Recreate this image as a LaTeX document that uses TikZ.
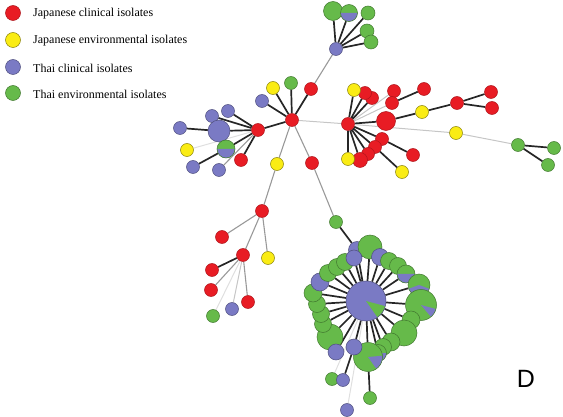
\documentclass[tikz,border=0pt]{standalone}
\usepackage{fontspec}
\setmainfont{Liberation Serif}
\newfontfamily\panelfont{Liberation Sans}
\usetikzlibrary{backgrounds}

\definecolor{jcred}{RGB}{232,28,36}
\definecolor{jeyellow}{RGB}{250,236,20}
\definecolor{tcblue}{RGB}{122,122,196}
\definecolor{tegreen}{RGB}{102,186,74}

\tikzset{
  iso/.style={circle,inner sep=0pt,minimum size=13pt,line width=0.5pt},
  jc/.style={iso,fill=jcred,draw=jcred!75!black},
  je/.style={iso,fill=jeyellow,draw=jeyellow!55!black},
  tc/.style={iso,fill=tcblue,draw=tcblue!65!black},
  te/.style={iso,fill=tegreen,draw=tegreen!65!black},
  pie/.style n args={3}{path picture={\fill[#1] (path picture bounding box.center)
      -- ++(#2:30pt) arc[start angle=#2,end angle=#3,radius=30pt] -- cycle;}},
  strong/.style={line width=1.7pt,black!85},
  weak/.style={line width=1.1pt,gray!80},
  light/.style={line width=1pt,gray!45},
  faint/.style={line width=1pt,gray!25},
  legtext/.style={anchor=west,font=\fontsize{12}{14}\selectfont,inner sep=0pt},
}

\begin{document}
\begin{tikzpicture}[x=1pt,y=-1pt]
\useasboundingbox (0,0) rectangle (563,417);

% legend
\node[jc,minimum size=15pt] (k1) at (13,13) {};
\node[je,minimum size=15pt] (k2) at (13,40) {};
\node[tc,minimum size=15pt] (k3) at (13,67) {};
\node[te,minimum size=15pt] (k4) at (13,93) {};
\node[legtext] (k1t) at (33,14) {Japanese clinical isolates};
\node[legtext] (k2t) at (33,41) {Japanese environmental isolates};
\node[legtext] (k3t) at (33,68) {Thai clinical isolates};
\node[legtext] (k4t) at (33,94) {Thai environmental isolates};

% top group
\node[tc] (t0) at (336,49) {};
\node[te,minimum size=19pt] (t1) at (333,11) {};
\node[te,minimum size=17pt,pie={tcblue}{180}{360}] (t2) at (349,13) {};
\node[te,minimum size=14pt] (t3) at (368,13) {};
\node[te,minimum size=14pt] (t4) at (367,31) {};
\node[te,minimum size=14pt] (t5) at (371,42) {};

% left hubs
\node[jc] (h1) at (258,130) {};
\node[jc] (h2) at (292,120) {};
\node[je] (a1) at (273,88) {};
\node[te] (a2) at (291,83) {};
\node[jc] (a3) at (311,89) {};
\node[tc] (a4) at (262,101) {};
\node[tc] (b1) at (228,111) {};
\node[tc] (b2) at (212,116) {};
\node[tc,minimum size=22pt] (b3) at (219,131) {};
\node[tc] (b4) at (180,128) {};
\node[te,minimum size=18pt,pie={tcblue}{180}{360}] (b5) at (226,149) {};
\node[je] (b6) at (187,150) {};
\node[tc] (b7) at (193,167) {};
\node[tc] (b8) at (219,170) {};
\node[jc] (b9) at (241,160) {};
\node[je] (d1) at (277,164) {};
\node[jc] (d2) at (312,163) {};

% right hub
\node[jc] (h3) at (348,124) {};
\node[jc] (e3) at (372,98) {};
\node[jc] (e2) at (365,93) {};
\node[je] (e1) at (354,90) {};
\node[jc] (e4) at (394,91) {};
\node[jc] (e5) at (392,103) {};
\node[jc] (e6) at (424,89) {};
\node[jc,minimum size=19pt] (e7) at (386,121) {};
\node[je] (e8) at (422,112) {};
\node[jc] (e9) at (457,103) {};
\node[jc] (e10) at (491,92) {};
\node[jc] (e11) at (492,108) {};
\node[je] (f1) at (456,133) {};
\node[te] (f2) at (518,145) {};
\node[te] (f3) at (554,148) {};
\node[te] (f4) at (548,165) {};
\node[jc] (s1) at (382,139) {};
\node[jc] (s2) at (375,147) {};
\node[jc] (s3) at (368,154) {};
\node[jc,minimum size=15pt] (s4) at (360,160) {};
\node[je] (s5) at (348,159) {};
\node[jc] (s6) at (413,155) {};
\node[je] (s7) at (402,172) {};

% lower left
\node[jc] (g1) at (262,211) {};
\node[jc] (g2) at (222,237) {};
\node[jc] (g3) at (243,255) {};
\node[je] (g4) at (268,258) {};
\node[jc] (g5) at (212,270) {};
\node[jc] (g6) at (211,290) {};
\node[jc] (g7) at (248,302) {};
\node[tc] (g8) at (232,309) {};
\node[te] (g9) at (213,316) {};

% big ring
\node[tc,minimum size=40pt,pie={tegreen}{-15}{-55}] (c0) at (366,301) {};
\node[tc,minimum size=17pt] (r1) at (357,250) {};
\node[te,minimum size=24pt] (r2) at (370,247) {};
\node[tc,minimum size=17pt] (r3) at (380,257) {};
\node[te,minimum size=17pt] (r4) at (389,261) {};
\node[te,minimum size=17pt] (r5) at (398,266) {};
\node[te,minimum size=18pt,pie={tcblue}{180}{360}] (r6) at (406,274) {};
\node[te,minimum size=22pt,pie={tcblue}{200}{340}] (r7) at (419,285) {};
\node[te,minimum size=31pt,pie={tcblue}{-15}{-50}] (r8) at (421,305) {};
\node[te,minimum size=18pt] (r9) at (411,320) {};
\node[te,minimum size=26pt] (r10) at (404,333) {};
\node[te,minimum size=18pt] (r11) at (391,342) {};
\node[te,minimum size=17pt] (r12) at (383,347) {};
\node[te,minimum size=17pt,pie={tcblue}{180}{360}] (r13) at (378,353) {};
\node[te,minimum size=29pt,pie={tcblue}{5}{-55}] (r14) at (368,357) {};
\node[tc,minimum size=16pt] (r15) at (354,347) {};
\node[te,minimum size=26pt] (r17) at (330,337) {};
\node[tc,minimum size=16pt] (r16) at (336,352) {};
\node[te,minimum size=17pt] (r18) at (323,324) {};
\node[te,minimum size=17pt] (r19) at (321,314) {};
\node[te,minimum size=17pt] (r20) at (317,304) {};
\node[te,minimum size=18pt] (r21) at (313,293) {};
\node[tc,minimum size=18pt] (r22) at (320,282) {};
\node[te,minimum size=17pt] (r23) at (328,273) {};
\node[te,minimum size=17pt] (r24) at (337,267) {};
\node[te,minimum size=17pt] (r25) at (345,262) {};
\node[tc,minimum size=16pt] (r26) at (354,258) {};
\node[te] (p1) at (336,222) {};
\node[te] (p2) at (332,379) {};
\node[tc] (p3) at (343,380) {};
\node[te] (p4) at (370,398) {};
\node[tc] (p5) at (347,410) {};

\node[font=\panelfont\fontsize{25}{25}\selectfont] (panel) at (526,379) {D};

\begin{pgfonlayer}{background}
\draw[strong] (t0) -- (t1) (t0) -- (t2) (t0) -- (t3) (t0) -- (t4) (t0) -- (t5);
\draw[weak] (h2) -- (t0);

\draw[strong] (h1) -- (h2);
\draw[strong] (h2) -- (a1) (h2) -- (a2) (h2) -- (a3) (h2) -- (a4);
\draw[strong] (h1) -- (b1) (h1) -- (b2) (h1) -- (b3) (b3) -- (b4);
\draw[strong] (h1) -- (b5) (b5) -- (b7) (h1) -- (b9);
\draw[faint] (h1) -- (b6);
\draw[weak] (h1) -- (b8);
\draw[weak] (h2) -- (d1) (d1) -- (g1);
\draw[weak] (h2) -- (d2) (d2) -- (p1);
\draw[light] (h2) -- (h3);

\draw[strong] (h3) -- (e1) (h3) -- (e2) (h3) -- (e3);
\draw[light] (h3) -- (e4) (h3) -- (e5);
\draw[strong] (e5) -- (e6);
\draw[strong] (h3) -- (e7) (e7) -- (e8) (e8) -- (e9) (e9) -- (e10) (e9) -- (e11);
\draw[light] (h3) -- (f1) (f1) -- (f2);
\draw[strong] (f2) -- (f3) (f2) -- (f4);
\draw[strong] (h3) -- (s1) (h3) -- (s2) (h3) -- (s3) (h3) -- (s4) (h3) -- (s5);
\draw[strong] (s1) -- (s6) (s2) -- (s7);

\draw[weak] (g1) -- (g2) (g1) -- (g3) (g1) -- (g4);
\draw[strong] (g3) -- (g5);
\draw[weak] (g3) -- (g6) (g3) -- (g7);
\draw[light] (g3) -- (g8);
\draw[faint] (g3) -- (g9);

% spokes
\draw[strong] (c0) -- (r1) (c0) -- (r2) (c0) -- (r3) (c0) -- (r4) (c0) -- (r5)
  (c0) -- (r6) (c0) -- (r7) (c0) -- (r8) (c0) -- (r9) (c0) -- (r10)
  (c0) -- (r11) (c0) -- (r12) (c0) -- (r13) (c0) -- (r14) (c0) -- (r15)
  (c0) -- (r16) (c0) -- (r17) (c0) -- (r18) (c0) -- (r19) (c0) -- (r20)
  (c0) -- (r21) (c0) -- (r22) (c0) -- (r23) (c0) -- (r24) (c0) -- (r25)
  (c0) -- (r26);
\draw[strong] (p1) -- (r1) (p3) -- (r15) (p4) -- (r14);
\draw[faint] (c0) -- (p2) (c0) -- (p5);
\end{pgfonlayer}

\end{tikzpicture}
\end{document}
